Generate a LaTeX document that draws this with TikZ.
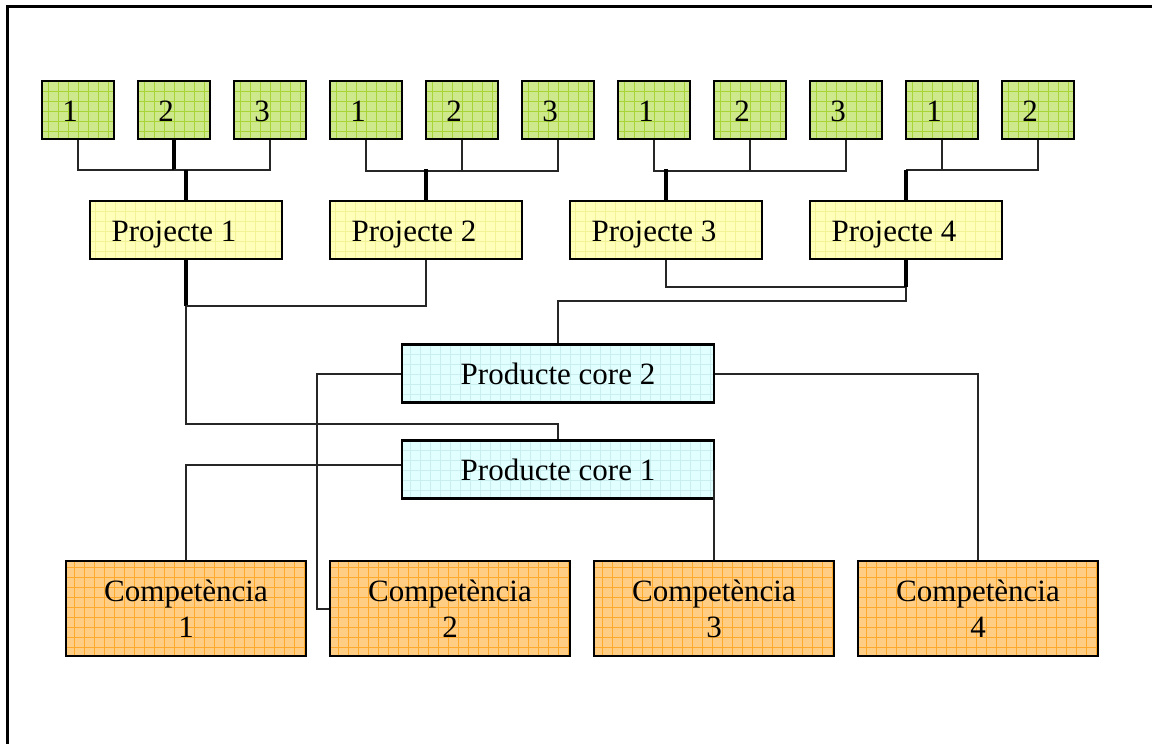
\documentclass[tikz,border=0pt]{standalone}
\usepackage{fontspec}
\setmainfont{Liberation Serif}
\begin{document}
\definecolor{gfill}{RGB}{206,232,140}
\definecolor{ggrid}{RGB}{168,212,55}
\definecolor{yfill}{RGB}{255,255,185}
\definecolor{ygrid}{RGB}{242,242,150}
\definecolor{cfill}{RGB}{225,255,255}
\definecolor{cgrid}{RGB}{200,238,240}
\definecolor{ofill}{RGB}{255,206,132}
\definecolor{ogrid}{RGB}{255,170,45}
\begin{tikzpicture}[x=1pt,y=-1pt,
  box/.style={draw=black, line width=2.6pt, inner sep=0pt, anchor=center,
    font=\fontsize{31}{36}\selectfont},
  oneline/.style={text height=22pt, text depth=0pt},
  gridded/.style 2 args={fill=#1, path picture={
    \draw[#2, line width=0.9pt] (path picture bounding box.south west)
      grid[step=10pt] (path picture bounding box.north east);}},
  leaf/.style={box, oneline, gridded={gfill}{ggrid}, minimum width=72pt, minimum height=58pt},
  proj/.style={box, oneline, gridded={yfill}{ygrid}, minimum width=192pt, minimum height=58pt},
  core/.style={box, oneline, gridded={cfill}{cgrid}, minimum width=312pt, minimum height=58pt},
  comp/.style={box, gridded={ofill}{ogrid}, minimum width=240pt, minimum height=95pt, align=center},
  conn/.style={draw=black!85, line width=2pt},
  trunk/.style={draw=black, line width=3.4pt},
  frameline/.style={draw=black, line width=3pt}]
\useasboundingbox (0,0) rectangle (1152,744);
\draw[frameline] (7,744) -- (7,6) -- (1152,6);

% task boxes
\node[leaf] (g1)  at (78,110)   {\kern-16pt 1};
\node[leaf] (g2)  at (174,110)  {\kern-16pt 2};
\node[leaf] (g3)  at (270,110)  {\kern-16pt 3};
\node[leaf] (g4)  at (366,110)  {\kern-16pt 1};
\node[leaf] (g5)  at (462,110)  {\kern-16pt 2};
\node[leaf] (g6)  at (558,110)  {\kern-16pt 3};
\node[leaf] (g7)  at (654,110)  {\kern-16pt 1};
\node[leaf] (g8)  at (750,110)  {\kern-16pt 2};
\node[leaf] (g9)  at (846,110)  {\kern-16pt 3};
\node[leaf] (g10) at (942,110)  {\kern-16pt 1};
\node[leaf] (g11) at (1038,110) {\kern-16pt 2};

% projects
\node[proj] (p1) at (186,230) {\kern-24pt Projecte 1};
\node[proj] (p2) at (426,230) {\kern-24pt Projecte 2};
\node[proj] (p3) at (666,230) {\kern-24pt Projecte 3};
\node[proj] (p4) at (906,230) {\kern-24pt Projecte 4};

% core products
\node[core] (pc2) at (558,373.5) {Producte core 2};
\node[core] (pc1) at (558,469.5) {Producte core 1};

% competences
\node[comp] (c1) at (186,608.5) {Competència\\1};
\node[comp] (c2) at (450,608.5) {Competència\\2};
\node[comp] (c3) at (714,608.5) {Competència\\3};
\node[comp] (c4) at (978,608.5) {Competència\\4};

% junction points
\coordinate (j1) at (174,170);
\coordinate (k1) at (186,170);
\coordinate (r4) at (906,170);
\coordinate (m1) at (186,306);
\coordinate (n1) at (558,424);
\coordinate (m4) at (906,287);
\coordinate (n4) at (906,301);
\coordinate (q2) at (317,609);

% tasks to projects
\draw[conn] (g1.south) |- (j1);
\draw[trunk] (g2.south) -- (j1);
\draw[conn] (g3.south) |- (k1);
\draw[conn] (j1) -- (k1);
\draw[trunk] (k1) -- (p1.north);

\draw[conn] (g4.south) -- ++(0,31) -| (g6.south);
\draw[conn] (g5.south) -- ++(0,31);
\draw[trunk] (p2.north) -- ++(0,-31);

\draw[conn] (g7.south) -- ++(0,31) -| (g9.south);
\draw[conn] (g8.south) -- ++(0,31);
\draw[trunk] (p3.north) -- ++(0,-31);

\draw[conn] (g11.south) |- (r4);
\draw[conn] (g10.south) -- (g10.south |- r4);
\draw[trunk] (r4) -- (p4.north);

% projects to core products
\draw[trunk] (p1.south) -- (m1);
\draw[conn] (m1) -| (p2.south);
\draw[conn] (m1) |- (n1) -- (pc1.north);

\draw[conn] (p3.south) |- (m4);
\draw[trunk] (p4.south) -- (m4);
\draw[conn] (m4) -- (n4) -| (pc2.north);

% core products to competences
\draw[conn] (pc2.west) -| (q2) -- (c2.west |- q2);
\draw[conn] (pc2.east) -| (c4.north);
\draw[conn] ([yshift=4.5pt]pc1.west) -| (c1.north);
\draw[conn] (c3.north) -- (c3.north |- pc1.east);
\end{tikzpicture}
\end{document}
